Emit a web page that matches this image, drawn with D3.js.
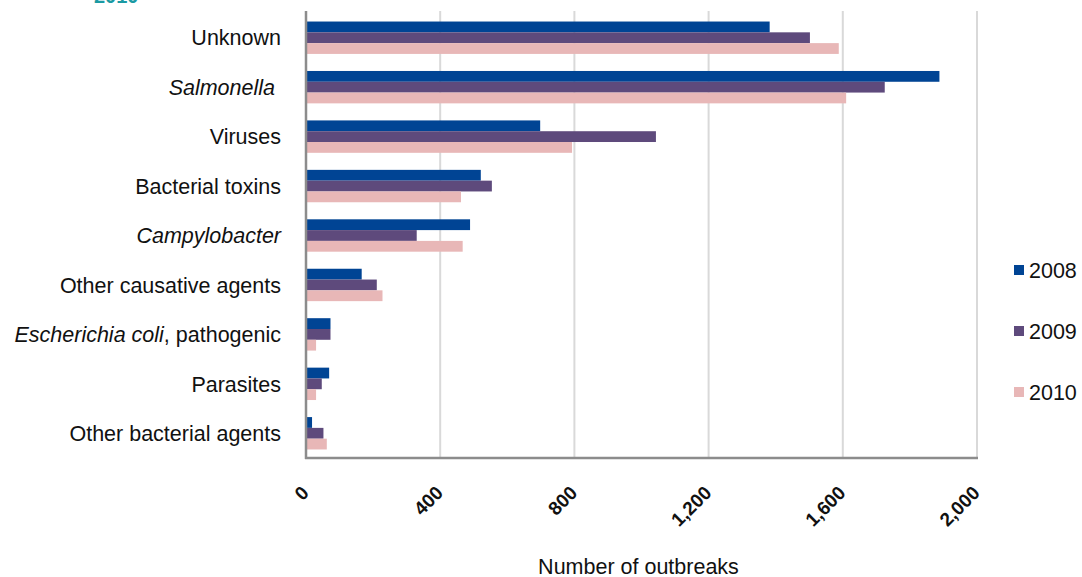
<!DOCTYPE html>
<html>
<head>
<meta charset="utf-8">
<script src="https://cdn.jsdelivr.net/npm/d3@7"></script>
<style>
  body { margin: 0; background: #fff; }
  svg { display: block; font-family: "Liberation Sans", Arial, sans-serif; }
</style>
</head>
<body>
<svg width="1082" height="577"></svg>
<script>
//data
const categories = ["Unknown", "Salmonella", "Viruses", "Bacterial toxins", "Campylobacter",
    "Other causative agents", "Escherichia coli, pathogenic", "Parasites", "Other bacterial agents"];
const years = ["2008", "2009", "2010"];
const values2008 = [1382, 1888, 698, 521, 489, 166, 73, 69, 18];
const values2009 = [1502, 1725, 1043, 554, 330, 211, 73, 47, 52];
const values2010 = [1588, 1610, 793, 462, 467, 228, 30, 30, 62];
const xTicks = [0, 400, 800, 1200, 1600, 2000];
// label pieces: [text, italic]
const labelParts = {
    "Salmonella": [["Salmonella", true], ["\u00a0", false]],
    "Campylobacter": [["Campylobacter", true]],
    "Escherichia coli, pathogenic": [["Escherichia coli", true], [", pathogenic", false]]
};

//constants
const margin = {top: 13, left: 306, right: 105, bottom: 119};
const width = 1082 - margin.left - margin.right;
const height = 577 - margin.top - margin.bottom;
const colors = ["#004494", "#5e4a7c", "#e8b7b7"];

const series = years.map((y, i) => ({
    year: y,
    values: [values2008, values2009, values2010][i]
}));

//scales
let xScale = d3.scaleLinear()
    .domain([0, 2000])
    .range([0, width]);

let yScale = d3.scaleBand()
    .domain(categories)
    .range([0, height])
    .paddingInner(0.345)
    .paddingOuter(0.1725);

let subScale = d3.scaleBand()
    .domain(years)
    .range([0, yScale.bandwidth()]);

let colorScale = d3.scaleOrdinal()
    .domain(years)
    .range(colors);

//canvas
let svg = d3.select("svg");

svg.append("text")
    .attr("x", 94)
    .attr("y", 3)
    .style("font-size", "20px")
    .style("font-weight", "bold")
    .style("fill", "#1b9aa3")
    .text("2010");

let g = svg.append("g")
    .attr("transform", "translate(" + margin.left + "," + margin.top + ")");

//grid
g.append("g")
    .selectAll("line")
    .data(xTicks.slice(1))
    .enter()
    .append("line")
    .attr("x1", d => xScale(d))
    .attr("x2", d => xScale(d))
    .attr("y1", -2)
    .attr("y2", height)
    .attr("stroke", "#d9d9d9")
    .attr("stroke-width", 2);

//bars
g.append("g")
    .selectAll("g")
    .data(series)
    .enter()
    .append("g")
    .attr("fill", d => colorScale(d.year))
    .selectAll("rect")
    .data(d => d.values.map((v, i) => ({year: d.year, cat: categories[i], v: v})))
    .enter()
    .append("rect")
    .attr("x", 0)
    .attr("y", d => yScale(d.cat) + subScale(d.year))
    .attr("width", d => xScale(d.v))
    .attr("height", subScale.bandwidth());

//axes
g.append("line")
    .attr("x1", 0).attr("x2", 0)
    .attr("y1", -2).attr("y2", height + 1)
    .attr("stroke", "#8c8c8c")
    .attr("stroke-width", 2.5);

g.append("line")
    .attr("x1", -1).attr("x2", width + 1)
    .attr("y1", height).attr("y2", height)
    .attr("stroke", "#8c8c8c")
    .attr("stroke-width", 2.5);

//category labels
let labels = g.append("g")
    .selectAll("text")
    .data(categories)
    .enter()
    .append("text")
    .attr("x", -25)
    .attr("y", d => yScale(d) + yScale.bandwidth() / 2)
    .attr("dy", "0.36em")
    .style("text-anchor", "end")
    .style("font-size", "21.5px")
    .style("fill", "#111");

labels.each(function(d) {
    let parts = labelParts[d] || [[d, false]];
    d3.select(this).selectAll("tspan")
        .data(parts)
        .enter()
        .append("tspan")
        .style("font-style", p => p[1] ? "italic" : "normal")
        .text(p => p[0]);
});

//tick labels
g.append("g")
    .selectAll("text")
    .data(xTicks)
    .enter()
    .append("text")
    .attr("transform", d => "translate(" + (xScale(d) + 4) + "," + (height + 36) + ") rotate(-45)")
    .style("text-anchor", "end")
    .style("font-size", "19px")
    .style("font-weight", "bold")
    .style("fill", "#111")
    .text(d => d3.format(",")(d));

//axis title
g.append("text")
    .attr("x", width / 2 - 3)
    .attr("y", height + 116)
    .style("text-anchor", "middle")
    .style("font-size", "21.5px")
    .style("fill", "#111")
    .text("Number of outbreaks");

//legend
let legend = svg.append("g")
    .selectAll("g")
    .data(years)
    .enter()
    .append("g")
    .attr("transform", (d, i) => "translate(1014," + (270 + i * 61) + ")");

legend.append("rect")
    .attr("x", 0)
    .attr("y", -5)
    .attr("width", 10)
    .attr("height", 10)
    .attr("fill", d => colorScale(d));

legend.append("text")
    .attr("x", 15)
    .attr("dy", "0.36em")
    .style("font-size", "21.5px")
    .style("fill", "#111")
    .text(d => d);
</script>
</body>
</html>
